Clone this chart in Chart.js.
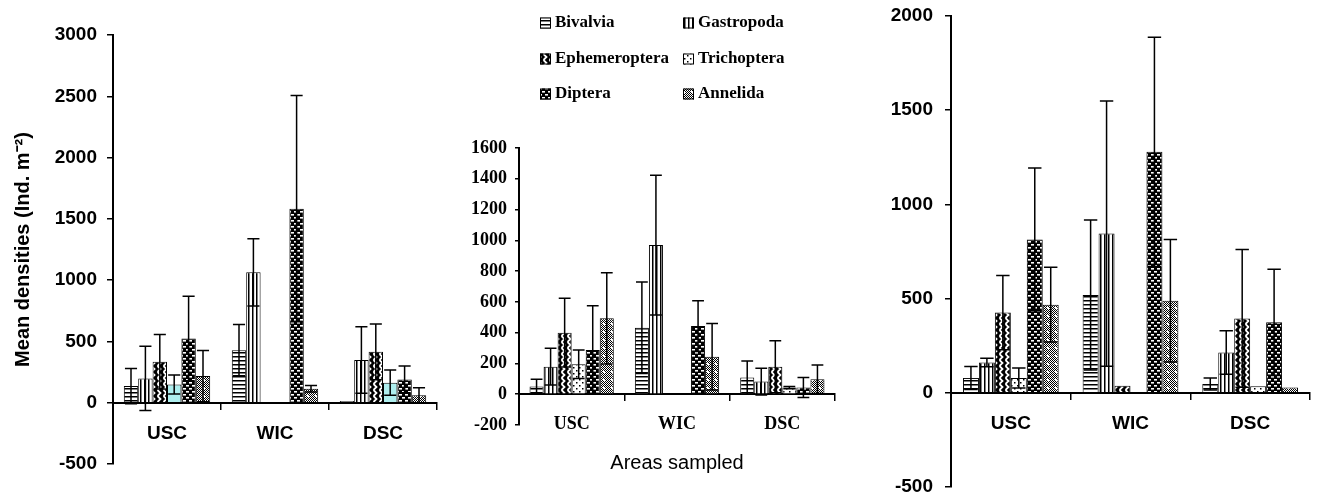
<!DOCTYPE html>
<html>
<head>
<meta charset="utf-8">
<script src="https://cdn.jsdelivr.net/npm/chart.js@4.4.1/dist/chart.umd.min.js"></script>
<style>
  html, body { margin: 0; padding: 0; background: #fff; }
  body { width: 1318px; height: 495px; position: relative; overflow: hidden; }
  canvas { position: absolute; top: 0; }
</style>
</head>
<body>
<canvas id="leftChart" width="440" height="495" style="left:0"></canvas>
<canvas id="midChart" width="420" height="495" style="left:440px"></canvas>
<canvas id="rightChart" width="458" height="495" style="left:860px"></canvas>
<script>
// ===== DATA (mean densities and +/- error, in area order) =====
const areas = ["USC", "WIC", "DSC"];
const taxa = ["Bivalvia", "Gastropoda", "Ephemeroptera", "Trichoptera", "Diptera", "Annelida"];

// left panel
const leftBivalvia = [136, 429, 14];
const leftBivalviaErr = [144, 209, 0];
const leftGastropoda = [198, 1064, 348];
const leftGastropodaErr = [262, 274, 271];
const leftEphemeroptera = [334, 0, 415];
const leftEphemeropteraErr = [223, 0, 228];
const leftTrichoptera = [149, 0, 163];
const leftTrichopteraErr = [77, 0, 103];
const leftDiptera = [524, 1583, 190];
const leftDipteraErr = [345, 923, 109];
const leftAnnelida = [217, 114, 60];
const leftAnnelidaErr = [209, 27, 62];
const leftTicks = [-500, 0, 500, 1000, 1500, 2000, 2500, 3000];

// middle panel
const midBivalvia = [50, 432, 108];
const midBivalviaErr = [47, 297, 108];
const midGastropoda = [179, 969, 82];
const midGastropodaErr = [119, 454, 87];
const midEphemeroptera = [400, 0, 179];
const midEphemeropteraErr = [223, 0, 169];
const midTrichoptera = [195, 0, 43];
const midTrichopteraErr = [93, 0, 7];
const midDiptera = [288, 443, 43];
const midDipteraErr = [287, 165, 65];
const midAnnelida = [493, 244, 97];
const midAnnelidaErr = [296, 216, 93];
const midTicks = [-200, 0, 200, 400, 600, 800, 1000, 1200, 1400, 1600];

// right panel
const rightBivalvia = [79, 519, 47];
const rightBivalviaErr = [61, 398, 32];
const rightGastropoda = [161, 845, 214];
const rightGastropodaErr = [23, 704, 116];
const rightEphemeroptera = [426, 38, 395];
const rightEphemeropteraErr = [197, 0, 366];
const rightTrichoptera = [79, 0, 35];
const rightTrichopteraErr = [53, 0, 0];
const rightDiptera = [814, 1279, 374];
const rightDipteraErr = [379, 608, 282];
const rightAnnelida = [468, 489, 28];
const rightAnnelidaErr = [199, 325, 0];
const rightTicks = [-500, 0, 500, 1000, 1500, 2000];

// ===== HATCH PATTERNS =====
function tile(w, h, draw) {
  const c = document.createElement("canvas");
  c.width = w; c.height = h;
  const g = c.getContext("2d");
  draw(g, w, h);
  return g.createPattern(c, "repeat");
}

const hatch = [
  // horizontal lines
  tile(4, 4, (g, w, h) => { g.fillStyle = "#fff"; g.fillRect(0, 0, w, h); g.fillStyle = "#000"; g.fillRect(0, 0, w, 1.5); }),
  // vertical lines
  tile(4, 4, (g, w, h) => { g.fillStyle = "#fff"; g.fillRect(0, 0, w, h); g.fillStyle = "#000"; g.fillRect(0, 0, 1.5, h); }),
  // zigzag
  tile(6, 6, (g, w, h) => {
    g.fillStyle = "#000"; g.fillRect(0, 0, w, h);
    g.strokeStyle = "#fff"; g.lineWidth = 1.8;
    g.beginPath(); g.moveTo(1.5, 0); g.lineTo(4.5, 3); g.lineTo(1.5, 6); g.stroke();
  }),
  // sparse dots
  tile(6, 6, (g, w, h) => { g.fillStyle = "#fff"; g.fillRect(0, 0, w, h); g.fillStyle = "#000"; g.fillRect(1, 1, 1.5, 1.5); g.fillRect(4, 4, 1.5, 1.5); }),
  // dark with white dashes
  tile(6, 6, (g, w, h) => { g.fillStyle = "#000"; g.fillRect(0, 0, w, h); g.fillStyle = "#fff"; g.fillRect(0, 1, 3, 1.6); g.fillRect(3, 4, 3, 1.6); }),
  // fine checker
  tile(8, 8, (g, w, h) => {
    g.fillStyle = "#fff"; g.fillRect(0, 0, w, h); g.fillStyle = "#000";
    for (let y = 0; y < h; y++) for (let x = (y % 2); x < w; x += 2) g.fillRect(x, y, 1, 1);
    g.fillStyle = "#fff"; g.fillRect(3, 3, 2, 2);
  })
];
const leftFills = [hatch[0], hatch[1], hatch[2], "#aeeeee", hatch[4], hatch[5]];

// ===== PLUGINS =====
const errorBars = {
  id: "errorBars",
  afterDatasetsDraw(chart) {
    const { ctx } = chart;
    const y = chart.scales.y;
    ctx.save();
    ctx.strokeStyle = "#000";
    ctx.lineWidth = 1.5;
    chart.data.datasets.forEach((ds, i) => {
      chart.getDatasetMeta(i).data.forEach((bar, j) => {
        const err = ds.errors[j];
        if (!err) return;
        const v = ds.data[j];
        const top = y.getPixelForValue(v + err);
        const bot = y.getPixelForValue(v - err);
        const half = bar.width * 0.42;
        ctx.beginPath();
        ctx.moveTo(bar.x, top); ctx.lineTo(bar.x, bot);
        ctx.moveTo(bar.x - half, top); ctx.lineTo(bar.x + half, top);
        ctx.moveTo(bar.x - half, bot); ctx.lineTo(bar.x + half, bot);
        ctx.stroke();
      });
    });
    ctx.restore();
  }
};

const gridLegend = {
  id: "gridLegend",
  afterDraw(chart, args, opts) {
    const { ctx } = chart;
    ctx.save();
    ctx.font = opts.font;
    ctx.textBaseline = "middle";
    chart.data.datasets.forEach((ds, i) => {
      const x = opts.colX[i % 2], y = opts.rowY[Math.floor(i / 2)];
      ctx.fillStyle = ds.backgroundColor;
      ctx.fillRect(x, y - 5.5, 11, 11);
      ctx.strokeStyle = "#000"; ctx.lineWidth = 1;
      ctx.strokeRect(x + 0.5, y - 5, 10, 10);
      ctx.fillStyle = "#000";
      ctx.fillText(ds.label, x + 15, y);
    });
    ctx.restore();
  }
};

// ===== CHART HELPER =====
function makePanel(canvasId, o) {
  const tickFont = { family: o.family, size: o.fontSize, weight: "bold" };
  return new Chart(document.getElementById(canvasId), {
    type: "bar",
    data: {
      labels: areas,
      datasets: o.series.map((s, i) => ({
        label: taxa[i],
        data: s[0],
        errors: s[1],
        backgroundColor: o.fills[i],
        borderColor: "#000",
        borderWidth: 1,
        categoryPercentage: 0.8,
        barPercentage: 1
      }))
    },
    options: {
      responsive: false,
      animation: false,
      layout: { padding: o.padding },
      plugins: {
        legend: { display: false },
        tooltip: { enabled: false },
        title: o.title || { display: false },
        gridLegend: o.legend || {}
      },
      scales: {
        x: {
          position: { y: 0 },
          grid: { drawOnChartArea: false, tickLength: 6, color: "#000", lineWidth: 1.5 },
          border: { color: "#000", width: 2 },
          ticks: { padding: o.xPad, color: "#000", font: tickFont }
        },
        y: {
          min: o.ticks[0],
          max: o.ticks[o.ticks.length - 1],
          ticks: {
            stepSize: o.ticks[1] - o.ticks[0], padding: o.yPad, color: "#000", font: tickFont,
            callback: (v) => String(v)
          },
          grid: { drawOnChartArea: false, tickLength: o.tickLen, color: "#000", lineWidth: 1.5 },
          border: { color: "#000", width: 2 },
          title: o.yTitle || { display: false },
          afterFit(scale) { scale.width = o.axisX; scale.paddingTop = 0; scale.paddingBottom = 0; }
        }
      }
    },
    plugins: o.legend ? [errorBars, gridLegend] : [errorBars]
  });
}

// ===== INIT =====
makePanel("leftChart", {
  family: "Liberation Sans", fontSize: 19,
  series: [
    [leftBivalvia, leftBivalviaErr], [leftGastropoda, leftGastropodaErr],
    [leftEphemeroptera, leftEphemeropteraErr], [leftTrichoptera, leftTrichopteraErr],
    [leftDiptera, leftDipteraErr], [leftAnnelida, leftAnnelidaErr]
  ],
  fills: leftFills,
  ticks: leftTicks,
  padding: { left: 0, right: 3, top: 35, bottom: 31 },
  axisX: 113, tickLen: 6, yPad: 10, xPad: 14,
  yTitle: {
    display: true, text: "Mean densities (Ind. m\u207B\u00B2)", color: "#000",
    font: { family: "Liberation Sans", size: 20, weight: "bold" }, padding: { top: 11, bottom: 0 }
  }
});

makePanel("midChart", {
  family: "Liberation Serif", fontSize: 18,
  series: [
    [midBivalvia, midBivalviaErr], [midGastropoda, midGastropodaErr],
    [midEphemeroptera, midEphemeropteraErr], [midTrichoptera, midTrichopteraErr],
    [midDiptera, midDipteraErr], [midAnnelida, midAnnelidaErr]
  ],
  fills: hatch,
  ticks: midTicks,
  padding: { left: 0, right: 25, top: 148, bottom: 0 },
  axisX: 79, tickLen: 4, yPad: 8, xPad: 13,
  title: {
    display: true, text: "Areas sampled", position: "bottom", fullSize: false, color: "#000",
    font: { family: "Liberation Sans", size: 20, weight: "normal" }, padding: { top: 26, bottom: 20 }
  },
  legend: { colX: [100, 243], rowY: [23, 59, 94], font: "bold 17px 'Liberation Serif'" }
});

makePanel("rightChart", {
  family: "Liberation Sans", fontSize: 19,
  series: [
    [rightBivalvia, rightBivalviaErr], [rightGastropoda, rightGastropodaErr],
    [rightEphemeroptera, rightEphemeropteraErr], [rightTrichoptera, rightTrichopteraErr],
    [rightDiptera, rightDipteraErr], [rightAnnelida, rightAnnelidaErr]
  ],
  fills: hatch,
  ticks: rightTicks,
  padding: { left: 0, right: 8, top: 16, bottom: 8 },
  axisX: 91, tickLen: 6, yPad: 12, xPad: 14
});
</script>
</body>
</html>
